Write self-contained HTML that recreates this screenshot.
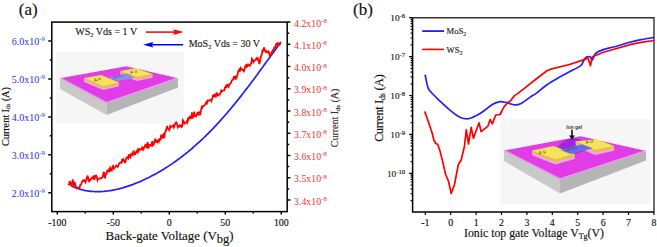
<!DOCTYPE html><html><head><meta charset="utf-8"><style>html,body{margin:0;padding:0;background:#fff;width:657px;height:247px;overflow:hidden}svg{display:block;font-family:"Liberation Serif",serif}</style></head><body>
<svg width="657" height="247" viewBox="0 0 657 247">
<rect x="56" y="52" width="127.7" height="71.3" fill="#f6f6f6"/>
<polygon points="60.0,78.3 106.5,103.2 106.5,115.0 60.0,89.0" fill="#c9c9c9"/><polygon points="106.5,103.2 178.0,78.3 178.0,87.5 106.5,115.0" fill="#b5b5b5"/><polygon points="60.0,78.3 126.3,66.2 178.0,78.3 106.5,103.2" fill="#e13ce6"/><polyline points="60.5,78.1 106.5,102.5 177.5,78.1" fill="none" stroke="#e9a0ec" stroke-width="1.3"/><polygon points="84.0,78.1 103.4,86.2 119.0,82.4 119.0,86.2 103.4,90.0 84.0,81.9" fill="#eba7ee"/><polygon points="84.0,78.1 103.4,86.2 119.0,82.4 119.0,84.4 103.4,88.2 84.0,80.1" fill="#e6c232"/><polygon points="84.0,78.1 101.2,74.9 119.0,82.4 103.4,86.2" fill="#f7e25c"/><polygon points="120.2,71.0 136.9,77.1 152.5,73.9 152.5,77.7 136.9,80.9 120.2,74.8" fill="#eba7ee"/><polygon points="120.2,71.0 136.9,77.1 152.5,73.9 152.5,75.9 136.9,79.1 120.2,73.0" fill="#e6c232"/><polygon points="120.2,71.0 135.5,68.2 152.5,73.9 136.9,77.1" fill="#f7e25c"/><polygon points="108.3,77.3 127.5,73.5 134.5,77.7 118.2,81.2" fill="#8a8fe8"/>
<g font-family="Liberation Sans, sans-serif" font-size="4.6" fill="#3a3320" letter-spacing="1.2"><text transform="translate(94.5,82) rotate(-19)">Au</text><text transform="translate(130.5,74) rotate(-14)">Au</text><text transform="translate(113.5,79) rotate(-15)" fill="#4048a8" font-size="3.6" letter-spacing="0.3">MoS2</text></g>
<g stroke="#000" stroke-width="1.5" fill="none">
<rect x="51.8" y="22.1" width="235.4" height="189.5"/>
<path d="M57.3 211.6 V214.6 M113.3 211.6 V214.6 M169.3 211.6 V214.6 M225.3 211.6 V214.6 M281.3 211.6 V214.6 M85.3 211.6 V213.4 M141.3 211.6 V213.4 M197.3 211.6 V213.4 M253.3 211.6 V213.4 M51.8 192.7 H48.3 M51.8 154.8 H48.3 M51.8 116.9 H48.3 M51.8 79.0 H48.3 M51.8 41.1 H48.3 M51.8 173.7 H49.8 M51.8 135.8 H49.8 M51.8 97.9 H49.8 M51.8 60.0 H49.8 M287.2 200.0 H290.4 M287.2 177.8 H290.4 M287.2 155.5 H290.4 M287.2 133.3 H290.4 M287.2 111.0 H290.4 M287.2 88.8 H290.4 M287.2 66.6 H290.4 M287.2 44.3 H290.4 M287.2 22.1 H290.4 M287.2 188.9 H289.2 M287.2 166.6 H289.2 M287.2 144.4 H289.2 M287.2 122.2 H289.2 M287.2 99.9 H289.2 M287.2 77.7 H289.2 M287.2 55.4 H289.2 M287.2 33.2 H289.2"/>
</g>
<g font-size="9.9" fill="#111" stroke="#111" stroke-width="0.15"><text x="57.3" y="225.5" text-anchor="middle">-100</text><text x="113.3" y="225.5" text-anchor="middle">-50</text><text x="169.3" y="225.5" text-anchor="middle">0</text><text x="225.3" y="225.5" text-anchor="middle">50</text><text x="281.3" y="225.5" text-anchor="middle">100</text></g>
<g font-size="10" fill="#2a2af0"><text x="45" y="196.6" text-anchor="end">2.0x10<tspan dy="-3.6" font-size="6.8">-9</tspan></text><text x="45" y="158.7" text-anchor="end">3.0x10<tspan dy="-3.6" font-size="6.8">-9</tspan></text><text x="45" y="120.8" text-anchor="end">4.0x10<tspan dy="-3.6" font-size="6.8">-9</tspan></text><text x="45" y="82.9" text-anchor="end">5.0x10<tspan dy="-3.6" font-size="6.8">-9</tspan></text><text x="45" y="45.0" text-anchor="end">6.0x10<tspan dy="-3.6" font-size="6.8">-9</tspan></text></g>
<g font-size="9.9" fill="#f03030"><text x="294" y="204.5">3.4x10<tspan dy="-3.6" font-size="6.8">-8</tspan></text><text x="294" y="182.3">3.5x10<tspan dy="-3.6" font-size="6.8">-8</tspan></text><text x="294" y="160.0">3.6x10<tspan dy="-3.6" font-size="6.8">-8</tspan></text><text x="294" y="137.8">3.7x10<tspan dy="-3.6" font-size="6.8">-8</tspan></text><text x="294" y="115.5">3.8x10<tspan dy="-3.6" font-size="6.8">-8</tspan></text><text x="294" y="93.3">3.9x10<tspan dy="-3.6" font-size="6.8">-8</tspan></text><text x="294" y="71.1">4.0x10<tspan dy="-3.6" font-size="6.8">-8</tspan></text><text x="294" y="48.8">4.1x10<tspan dy="-3.6" font-size="6.8">-8</tspan></text><text x="294" y="26.6">4.2x10<tspan dy="-3.6" font-size="6.8">-8</tspan></text></g>
<text x="105.6" y="240.3" font-size="12.9" fill="#111" stroke="#111" stroke-width="0.15">Back-gate Voltage (V<tspan dy="3" font-size="12.5">bg</tspan><tspan dy="-3">)</tspan></text>
<text transform="translate(8.8,146) rotate(-90)" font-size="10.4" fill="#111" textLength="59" lengthAdjust="spacing" stroke="#111" stroke-width="0.15">Current I<tspan dy="1.3" font-size="6.3">ds</tspan><tspan dy="-1.3"> (A)</tspan></text>
<text x="18.8" y="14.8" font-size="17" fill="#111" stroke="#111" stroke-width="0.15">(a)</text>
<text x="75.3" y="35.1" font-size="10" fill="#222" stroke="#222" stroke-width="0.15">WS<tspan dy="2" font-size="6.5">2</tspan><tspan dy="-2"> Vds = 1 V</tspan></text>
<text x="188.7" y="47.1" font-size="10" fill="#222" stroke="#222" stroke-width="0.15">MoS<tspan dy="2" font-size="6.5">2</tspan><tspan dy="-2"> Vds = 30 V</tspan></text>
<path d="M146 32.1 H175" stroke="#f00" stroke-width="1.5"/>
<path d="M183.6 32.1 L173.2 29.3 L174.5 32.1 L173.2 34.9 Z" fill="#f00"/>
<path d="M151 44.7 H183.2" stroke="#00f" stroke-width="1.5"/>
<path d="M143 44.7 L153.2 41.9 L151.9 44.7 L153.2 47.5 Z" fill="#00f"/>
<path d="M71.0 185.7 L72.5 186.4 L74.0 187.0 L75.5 187.7 L77.0 188.2 L78.5 188.7 L80.0 189.2 L81.5 189.6 L83.0 190.0 L84.5 190.4 L86.0 190.7 L87.5 190.9 L89.0 191.1 L90.5 191.3 L92.0 191.4 L93.5 191.5 L95.0 191.6 L96.5 191.6 L98.0 191.7 L99.5 191.6 L101.0 191.6 L102.5 191.5 L104.0 191.4 L105.5 191.2 L107.0 191.0 L108.5 190.9 L110.0 190.6 L111.5 190.4 L113.0 190.1 L114.5 189.8 L116.0 189.5 L117.5 189.1 L119.0 188.8 L120.5 188.4 L122.0 188.0 L123.5 187.6 L125.0 187.1 L126.5 186.6 L128.0 186.1 L129.5 185.6 L131.0 185.1 L132.5 184.6 L134.0 184.0 L135.5 183.4 L137.0 182.8 L138.5 182.2 L140.0 181.6 L141.5 180.9 L143.0 180.2 L144.5 179.5 L146.0 178.8 L147.5 178.1 L149.0 177.4 L150.5 176.6 L152.0 175.8 L153.5 175.0 L155.0 174.2 L156.5 173.4 L158.0 172.5 L159.5 171.7 L161.0 170.8 L162.5 169.9 L164.0 169.0 L165.5 168.0 L167.0 167.1 L168.5 166.1 L170.0 165.1 L171.5 164.1 L173.0 163.1 L174.5 162.0 L176.0 161.0 L177.5 159.9 L179.0 158.8 L180.5 157.7 L182.0 156.5 L183.5 155.4 L185.0 154.2 L186.5 153.0 L188.0 151.8 L189.5 150.5 L191.0 149.3 L192.5 148.0 L194.0 146.7 L195.5 145.4 L197.0 144.0 L198.5 142.7 L200.0 141.3 L201.5 139.9 L203.0 138.5 L204.5 137.1 L206.0 135.6 L207.5 134.1 L209.0 132.6 L210.5 131.1 L212.0 129.6 L213.5 128.0 L215.0 126.4 L216.5 124.8 L218.0 123.2 L219.5 121.6 L221.0 119.9 L222.5 118.2 L224.0 116.5 L225.5 114.8 L227.0 113.1 L228.5 111.3 L230.0 109.5 L231.5 107.7 L233.0 105.9 L234.5 104.1 L236.0 102.2 L237.5 100.4 L239.0 98.5 L240.5 96.6 L242.0 94.7 L243.5 92.8 L245.0 90.8 L246.5 88.9 L248.0 86.9 L249.5 84.9 L251.0 82.9 L252.5 80.9 L254.0 78.9 L255.5 76.9 L257.0 74.9 L258.5 72.8 L260.0 70.8 L261.5 68.7 L263.0 66.7 L264.5 64.6 L266.0 62.5 L267.5 60.5 L269.0 58.4 L270.5 56.3 L272.0 54.3 L273.5 52.2 L275.0 50.2 L276.5 48.1 L278.0 46.1 L279.5 44.0 L281.0 42.0" stroke="#1f1fff" stroke-width="1.7" fill="none"/>
<path d="M68.2 183.6 L69.0 185.1 L69.7 181.2 L70.5 183.1 L71.2 185.9 L72.0 183.7 L72.7 179.4 L73.5 185.7 L74.2 182.4 L75.0 183.0 L75.7 187.0 L76.5 187.1 L77.2 188.4 L78.0 188.1 L78.7 187.9 L79.5 188.3 L80.2 184.8 L81.0 184.5 L81.7 182.9 L82.5 181.1 L83.2 180.3 L84.0 181.0 L84.7 180.4 L85.5 182.2 L86.2 179.7 L87.0 177.5 L87.7 175.6 L88.5 180.5 L89.2 181.3 L90.0 179.4 L90.7 179.9 L91.5 178.0 L92.2 177.5 L93.0 178.3 L93.7 175.5 L94.5 179.7 L95.2 176.4 L96.0 175.4 L96.7 176.4 L97.5 180.4 L98.2 179.1 L99.0 178.7 L99.7 178.4 L100.5 178.1 L101.2 178.3 L102.0 177.3 L102.7 177.3 L103.5 172.5 L104.2 172.7 L105.0 178.3 L105.7 174.1 L106.5 174.0 L107.2 170.7 L108.0 171.1 L108.7 169.8 L109.5 172.1 L110.2 167.8 L111.0 169.1 L111.7 171.2 L112.5 166.8 L113.2 165.9 L114.0 168.5 L114.7 167.5 L115.5 166.8 L116.2 165.5 L117.0 166.2 L117.7 167.0 L118.5 165.4 L119.2 163.3 L120.0 162.9 L120.7 162.4 L121.5 162.9 L122.2 158.8 L123.0 161.7 L123.7 159.7 L124.5 161.5 L125.2 163.1 L126.0 159.5 L126.7 157.6 L127.5 157.2 L128.2 158.3 L128.9 154.3 L129.7 157.0 L130.4 157.5 L131.2 154.0 L131.9 155.0 L132.7 155.2 L133.4 150.7 L134.2 152.7 L134.9 155.0 L135.7 152.6 L136.4 151.1 L137.2 152.2 L137.9 149.7 L138.7 151.2 L139.4 149.0 L140.2 149.4 L140.9 149.7 L141.7 149.3 L142.4 146.4 L143.2 149.6 L143.9 148.4 L144.7 146.8 L145.4 144.6 L146.2 144.6 L146.9 148.2 L147.7 142.2 L148.4 148.6 L149.2 145.2 L149.9 144.9 L150.7 145.7 L151.4 145.8 L152.2 141.2 L152.9 145.4 L153.7 144.7 L154.4 141.6 L155.2 138.7 L155.9 142.7 L156.7 141.0 L157.4 142.0 L158.2 140.2 L158.9 141.6 L159.7 138.6 L160.4 140.3 L161.2 134.7 L161.9 138.5 L162.7 135.5 L163.4 134.6 L164.2 138.3 L164.9 132.7 L165.7 131.3 L166.4 128.6 L167.2 125.9 L167.9 128.8 L168.7 129.4 L169.4 130.3 L170.2 126.1 L170.9 127.2 L171.7 126.4 L172.4 126.3 L173.2 125.3 L173.9 127.4 L174.7 125.5 L175.4 123.1 L176.2 122.3 L176.9 123.3 L177.7 127.2 L178.4 126.1 L179.2 126.7 L179.9 125.3 L180.7 125.4 L181.4 127.0 L182.2 126.5 L182.9 120.2 L183.7 121.3 L184.4 123.5 L185.2 122.8 L185.9 122.9 L186.7 121.4 L187.4 122.5 L188.2 117.3 L188.9 118.9 L189.7 116.7 L190.4 116.7 L191.2 118.9 L191.9 112.3 L192.7 118.5 L193.4 116.4 L194.2 111.7 L194.9 116.0 L195.7 115.9 L196.4 116.2 L197.2 113.3 L197.9 112.6 L198.7 115.2 L199.4 113.0 L200.2 115.0 L200.9 111.1 L201.7 106.9 L202.4 107.5 L203.2 105.8 L203.9 105.6 L204.7 105.2 L205.4 104.0 L206.2 102.3 L206.9 103.4 L207.7 100.5 L208.4 100.9 L209.2 100.3 L209.9 100.0 L210.7 99.7 L211.4 101.1 L212.2 98.5 L212.9 95.7 L213.7 95.1 L214.4 97.2 L215.2 93.8 L215.9 97.4 L216.7 92.4 L217.4 95.1 L218.2 95.5 L218.9 94.4 L219.7 94.6 L220.4 93.0 L221.2 90.6 L221.9 91.4 L222.7 90.6 L223.4 90.5 L224.2 90.4 L224.9 87.5 L225.7 86.3 L226.4 88.0 L227.2 84.1 L227.9 85.6 L228.7 86.7 L229.4 84.1 L230.2 83.8 L230.9 83.0 L231.7 80.4 L232.4 80.2 L233.2 79.5 L233.9 76.1 L234.7 79.2 L235.4 77.3 L236.2 79.4 L236.9 76.3 L237.7 74.1 L238.4 70.7 L239.2 69.6 L239.9 71.6 L240.7 67.9 L241.4 68.7 L242.2 69.9 L242.9 69.8 L243.7 71.3 L244.4 70.2 L245.2 66.2 L245.9 64.6 L246.7 67.7 L247.4 63.8 L248.2 65.5 L248.9 64.8 L249.7 65.8 L250.4 64.7 L251.2 63.3 L251.9 58.7 L252.7 60.0 L253.4 62.2 L254.2 60.7 L254.9 60.2 L255.7 60.0 L256.4 58.3 L257.2 59.3 L257.9 58.3 L258.7 61.2 L259.4 64.1 L260.2 60.1 L260.9 56.4 L261.7 55.0 L262.4 50.6 L263.2 51.0 L263.9 47.4 L264.7 49.8 L265.4 51.8 L266.2 51.1 L266.9 52.3 L267.7 52.1 L268.4 51.5 L269.2 53.3 L269.9 56.5 L270.7 55.4 L271.4 52.8 L272.2 51.6 L272.9 50.0 L273.7 50.3 L274.4 46.7 L275.2 48.3 L275.9 44.2 L276.7 43.6 L277.4 45.3 L278.2 42.4 L278.9 44.9 L279.7 44.5 L280.4 43.2" stroke="#ff0000" stroke-width="1.75" fill="none" stroke-linejoin="miter" stroke-miterlimit="3"/>
<rect x="500.5" y="119" width="149.5" height="85" fill="#f6f6f6"/>
<polygon points="504.0,150.5 560.0,179.5 560.0,193.5 504.0,161.0" fill="#c9c9c9"/><polygon points="560.0,179.5 646.0,151.0 646.0,160.5 560.0,193.5" fill="#b5b5b5"/><polygon points="504.0,150.5 580.7,136.2 646.0,151.0 560.0,179.5" fill="#e13ce6"/><polyline points="504.5,150.3 560.0,178.8 645.5,150.8" fill="none" stroke="#e9a0ec" stroke-width="1.3"/><path d="M556.5 149.5 Q562 139.5 571.5 138.3 Q580 138 585 142.5 L593 148.5 L571 155 Z" fill="#9c2ad9"/><polygon points="532.1,150.4 555.4,159.5 574.7,154.0 574.7,158.9 555.4,164.4 532.1,155.3" fill="#eba7ee"/><polygon points="532.1,150.4 555.4,159.5 574.7,154.0 574.7,156.5 555.4,162.0 532.1,152.9" fill="#e6c232"/><polygon points="532.1,150.4 553.4,145.9 574.7,154.0 555.4,159.5" fill="#f7e25c"/><polygon points="575.7,141.3 594.9,150.0 614.1,145.9 614.1,150.8 594.9,154.9 575.7,146.2" fill="#eba7ee"/><polygon points="575.7,141.3 594.9,150.0 614.1,145.9 614.1,148.4 594.9,152.5 575.7,143.8" fill="#e6c232"/><polygon points="575.7,141.3 596.9,139.2 614.1,145.9 594.9,150.0" fill="#f7e25c"/><polygon points="560.5,150.0 581.7,144.3 592.9,148.3 570.6,154.0" fill="#6b6fe3"/>
<g font-family="Liberation Sans, sans-serif" font-size="5" fill="#3a3320" letter-spacing="1.3"><text transform="translate(539,155) rotate(-19)">Au</text><text transform="translate(586,144) rotate(-14)">Au</text><text transform="translate(566.5,151.5) rotate(-15)" fill="#3038a0" font-size="4" letter-spacing="0.3">MoS2</text></g>
<path d="M572 129.8 V136" stroke="#000" stroke-width="1.5"/><path d="M569.1 135.4 L574.9 135.4 L572 139.4 Z" fill="#000"/>
<text x="566.3" y="128.6" font-family="Liberation Sans, sans-serif" font-size="4.9" font-weight="bold" fill="#333">Ion gel</text>
<path d="M412.6 17.7 H654.0 V212.1" stroke="#333" stroke-width="1.4" fill="none"/>
<path d="M412.6 17.7 V212.1 H654.0" stroke="#000" stroke-width="1.5" fill="none"/>
<path d="M425.3 212.1 V215.1 M450.7 212.1 V215.1 M476.1 212.1 V215.1 M501.5 212.1 V215.1 M526.9 212.1 V215.1 M552.3 212.1 V215.1 M577.7 212.1 V215.1 M603.1 212.1 V215.1 M628.5 212.1 V215.1 M653.9 212.1 V215.1 M412.6 200.6 H410.6 M412.6 193.7 H410.6 M412.6 188.9 H410.6 M412.6 185.1 H410.6 M412.6 182.0 H410.6 M412.6 179.4 H410.6 M412.6 177.1 H410.6 M412.6 175.1 H410.6 M412.6 173.4 H409.1 M412.6 161.6 H410.6 M412.6 154.8 H410.6 M412.6 149.9 H410.6 M412.6 146.1 H410.6 M412.6 143.1 H410.6 M412.6 140.5 H410.6 M412.6 138.2 H410.6 M412.6 136.2 H410.6 M412.6 134.4 H409.1 M412.6 122.7 H410.6 M412.6 115.9 H410.6 M412.6 111.0 H410.6 M412.6 107.2 H410.6 M412.6 104.1 H410.6 M412.6 101.5 H410.6 M412.6 99.3 H410.6 M412.6 97.3 H410.6 M412.6 95.5 H409.1 M412.6 83.8 H410.6 M412.6 76.9 H410.6 M412.6 72.1 H410.6 M412.6 68.3 H410.6 M412.6 65.2 H410.6 M412.6 62.6 H410.6 M412.6 60.3 H410.6 M412.6 58.4 H410.6 M412.6 56.6 H409.1 M412.6 44.9 H410.6 M412.6 38.0 H410.6 M412.6 33.1 H410.6 M412.6 29.4 H410.6 M412.6 26.3 H410.6 M412.6 23.7 H410.6 M412.6 21.4 H410.6 M412.6 19.4 H410.6 M412.6 17.6 H409.1" stroke="#000" stroke-width="1.2" fill="none"/>
<g font-size="9.9" fill="#111" stroke="#111" stroke-width="0.15"><text x="425.3" y="225.6" text-anchor="middle">-1</text><text x="450.7" y="225.6" text-anchor="middle">0</text><text x="476.1" y="225.6" text-anchor="middle">1</text><text x="501.5" y="225.6" text-anchor="middle">2</text><text x="526.9" y="225.6" text-anchor="middle">3</text><text x="552.3" y="225.6" text-anchor="middle">4</text><text x="577.7" y="225.6" text-anchor="middle">5</text><text x="603.1" y="225.6" text-anchor="middle">6</text><text x="628.5" y="225.6" text-anchor="middle">7</text><text x="653.9" y="225.6" text-anchor="middle">8</text></g>
<g font-size="9.2" fill="#111" stroke="#111" stroke-width="0.15"><text x="405.2" y="21.4" text-anchor="end">10<tspan dy="-3.6" font-size="6.8">-6</tspan></text><text x="405.2" y="60.4" text-anchor="end">10<tspan dy="-3.6" font-size="6.8">-7</tspan></text><text x="405.2" y="99.3" text-anchor="end">10<tspan dy="-3.6" font-size="6.8">-8</tspan></text><text x="405.2" y="138.2" text-anchor="end">10<tspan dy="-3.6" font-size="6.8">-9</tspan></text><text x="405.2" y="177.2" text-anchor="end">10<tspan dy="-3.6" font-size="6.8">-10</tspan></text></g>
<text x="464" y="236.6" font-size="11.8" fill="#111" stroke="#111" stroke-width="0.15">Ionic top gate Voltage V<tspan dy="2.5" font-size="8">Tg</tspan><tspan dy="-2.5">(V)</tspan></text>
<text transform="translate(382.9,141.8) rotate(-90)" font-size="12" fill="#111" textLength="67.5" lengthAdjust="spacing" stroke="#111" stroke-width="0.15">Current I<tspan dy="2.4" font-size="8">ds</tspan><tspan dy="-2.4"> (A)</tspan></text>
<text transform="translate(338.3,147.3) rotate(-90)" font-size="10.2" fill="#333" textLength="58.7" lengthAdjust="spacing" stroke="#333" stroke-width="0.15">Current I<tspan dy="2" font-size="6.8">ds</tspan><tspan dy="-2"> (A)</tspan></text>
<text x="353.1" y="14.8" font-size="17" fill="#111" stroke="#111" stroke-width="0.15">(b)</text>
<path d="M422.2 31.1 H444" stroke="#00f" stroke-width="1.6"/>
<path d="M422.2 49.4 H444" stroke="#f00" stroke-width="1.6"/>
<text x="446.6" y="34.2" font-size="8.6" fill="#222" stroke="#222" stroke-width="0.15">MoS<tspan dy="2" font-size="6">2</tspan></text>
<text x="446.6" y="52.9" font-size="8.6" fill="#222" stroke="#222" stroke-width="0.15">WS<tspan dy="2" font-size="6">2</tspan></text>
<path d="M425.1 74.7 C425.6 76.8 426.9 84.6 428.0 87.6 C429.1 90.6 429.3 90.2 431.4 92.5 C433.4 94.8 437.0 98.2 440.3 101.4 C443.6 104.6 448.1 108.7 451.4 111.4 C454.7 114.1 457.7 116.2 460.3 117.4 C462.9 118.6 464.9 118.8 467.0 118.8 C469.1 118.8 470.8 118.1 472.6 117.4 C474.4 116.7 476.1 115.8 477.9 114.8 C479.7 113.8 481.0 112.9 483.4 111.2 C485.8 109.5 489.7 106.1 492.3 104.5 C494.9 102.9 496.8 102.2 499.0 101.8 C501.2 101.4 503.0 101.8 505.6 102.3 C508.2 102.8 511.9 104.7 514.5 104.9 C517.1 105.1 518.6 104.7 521.2 103.4 C523.8 102.2 527.4 99.1 529.9 97.4 C532.4 95.7 533.2 95.6 536.1 93.4 C539.0 91.2 543.6 87.1 547.3 84.5 C551.0 81.9 554.7 79.9 558.4 77.8 C562.1 75.7 565.8 73.8 569.5 71.8 C573.2 69.8 578.5 67.2 580.7 65.6 C582.9 64.0 582.1 63.5 582.9 62.2 C583.7 60.9 584.4 58.7 585.6 57.8 C586.8 56.9 588.9 56.3 590.0 56.7 C591.1 57.1 591.4 60.5 592.3 60.0 C593.2 59.5 593.8 55.1 595.6 53.4 C597.5 51.7 600.2 50.7 603.4 49.6 C606.5 48.5 610.1 47.9 614.5 46.7 C618.9 45.5 625.5 43.4 629.9 42.2 C634.3 41.0 637.0 40.5 641.0 39.7 C645.0 38.9 651.9 37.8 654.1 37.4" stroke="#1f1fff" stroke-width="1.7" fill="none" stroke-linejoin="round"/>
<path d="M424.7 111.4 L428.2 121.2 L432.2 133.3 L433.8 140.0 L435.6 143.3 L437.8 144.5 L440.0 151.1 L442.3 160.0 L445.6 174.5 L448.5 181.2 L451.2 193.5 L454.5 184.5 L458.3 164.5 L461.2 160.0 L464.5 146.0 L466.3 129.5 L468.5 144.0 L471.2 127.3 L473.4 138.4 L479.0 122.8 L481.2 131.7 L487.9 126.2 L490.1 119.5 L492.3 123.9 L495.7 115.0 L500.1 114.5 L503.4 107.8 L507.9 102.3 L510.1 101.2 L514.5 95.6 L517.9 93.4 L525.0 87.9 L536.1 79.0 L547.3 70.5 L551.7 68.9 L569.5 64.5 L584.9 59.4 L587.8 57.8 L590.5 65.6 L592.3 56.7 L603.4 52.3 L614.0 49.2 L629.9 44.6 L641.0 42.3 L654.1 40.5" stroke="#ff0000" stroke-width="1.7" fill="none" stroke-linejoin="round"/>
</svg></body></html>
